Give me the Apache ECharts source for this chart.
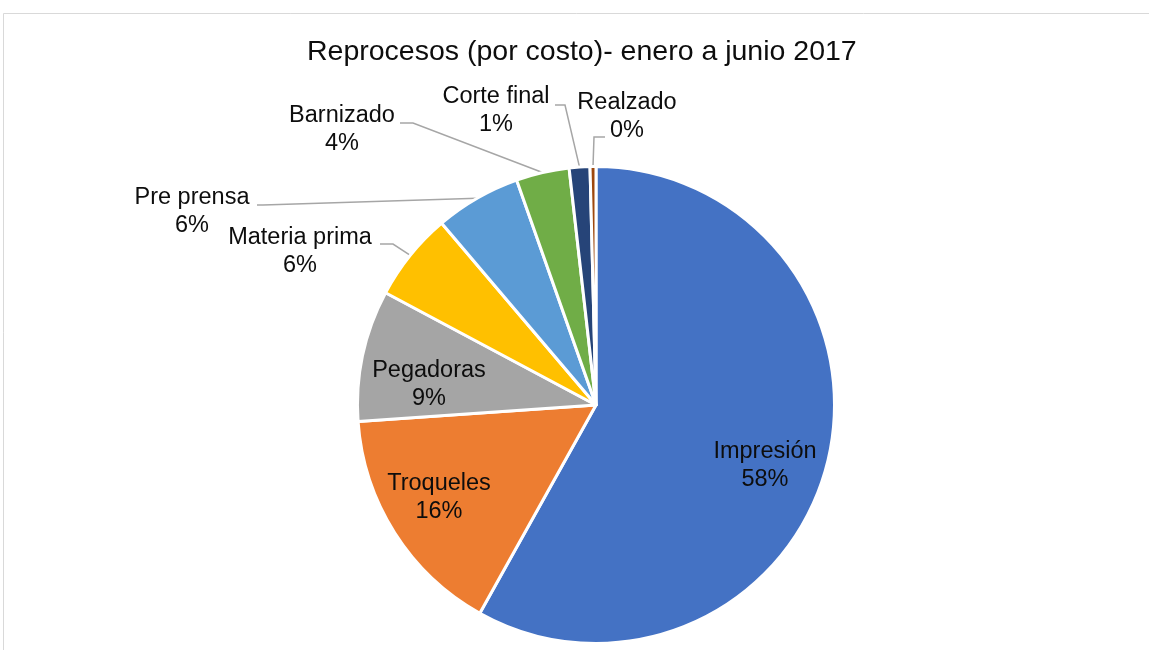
<!DOCTYPE html>
<html>
<head>
<meta charset="utf-8">
<title>Reprocesos (por costo)</title>
<script src="https://cdn.jsdelivr.net/npm/echarts@6/dist/echarts.min.js"></script>
<style>
  html, body { margin: 0; padding: 0; background: #ffffff; }
  #chart { width: 1149px; height: 650px; }
</style>
</head>
<body>
<div id="chart"></div>
<script>
// Rework cost share per process, January to June 2017 (percent of total cost)
const categories = ['Impresión', 'Troqueles', 'Pegadoras', 'Materia prima', 'Pre prensa', 'Barnizado', 'Corte final', 'Realzado'];
const shares = [58.1, 15.8, 8.9, 6.0, 5.8, 3.6, 1.4, 0.4];
const colors = ['#4472C4', '#ED7D31', '#A5A5A5', '#FFC000', '#5B9BD5', '#70AD47', '#264478', '#9E480E'];
const insideLabels = ['Impresión', 'Troqueles', 'Pegadoras'];
const chartTitle = 'Reprocesos (por costo)- enero a junio 2017';

// Pie geometry (pixels)
const PIE_CX = 596, PIE_CY = 405, PIE_R = 238.5;

// Label block centres and leader-line bends (bend point, then end next to the text)
const labelSpots = {
  'Impresión':     { pos: [765, 466] },
  'Troqueles':     { pos: [439, 498] },
  'Pegadoras':     { pos: [429, 385] },
  'Materia prima': { pos: [300, 252], line: [[393, 244], [380, 244]] },
  'Pre prensa':    { pos: [192, 212], line: [[263, 205], [257, 205]] },
  'Barnizado':     { pos: [342, 130], line: [[413, 123], [400, 123]] },
  'Corte final':   { pos: [496, 111], line: [[565, 105], [555, 105]] },
  'Realzado':      { pos: [627, 117], line: [[594, 137], [605, 137]] }
};

// Point on the outer rim at the middle of each slice (clockwise from 12 o'clock)
const total = shares.reduce((a, b) => a + b, 0);
function rimPoint(index) {
  let before = 0;
  for (let i = 0; i < index; i++) before += shares[i];
  const mid = (before + shares[index] / 2) / total * 2 * Math.PI;
  return [PIE_CX + PIE_R * Math.sin(mid), PIE_CY - PIE_R * Math.cos(mid)];
}

const pieData = categories.map((name, i) => {
  const inside = insideLabels.indexOf(name) >= 0;
  return {
    name: name,
    value: shares[i],
    itemStyle: { color: colors[i] },
    label: { position: inside ? 'inside' : 'outside' },
    labelLine: { show: !inside }
  };
});

const chart = echarts.init(document.getElementById('chart'), null, { renderer: 'canvas' });

chart.setOption({
  animation: false,
  backgroundColor: '#ffffff',
  textStyle: { fontFamily: '"Liberation Sans", Arial, sans-serif' },
  title: {
    text: chartTitle,
    left: 307,
    top: 35,
    padding: 0,
    textStyle: {
      fontFamily: '"Liberation Sans", Arial, sans-serif',
      fontSize: 28.5,
      lineHeight: 34,
      fontWeight: 'normal',
      color: '#0d0d0d'
    }
  },
  graphic: [{
    type: 'rect',
    silent: true,
    z: -10,
    shape: { x: 3.5, y: 13.5, width: 1200, height: 700 },
    style: { fill: 'none', stroke: '#d9d9d9', lineWidth: 1 }
  }],
  series: [{
    type: 'pie',
    center: [PIE_CX, PIE_CY],
    radius: PIE_R,
    startAngle: 90,
    clockwise: true,
    avoidLabelOverlap: false,
    percentPrecision: 0,
    itemStyle: { borderColor: '#ffffff', borderWidth: 3 },
    emphasis: { disabled: true },
    label: {
      formatter: '{b}\n{d}%',
      fontFamily: '"Liberation Sans", Arial, sans-serif',
      fontSize: 23.5,
      lineHeight: 28,
      color: '#0d0d0d'
    },
    labelLine: {
      lineStyle: { color: '#A6A6A6', width: 1.5 }
    },
    labelLayout: function (params) {
      const name = categories[params.dataIndex];
      const spot = labelSpots[name];
      if (!spot) return {};
      const out = {
        x: spot.pos[0],
        y: spot.pos[1],
        align: 'center',
        verticalAlign: 'middle'
      };
      if (spot.line) {
        out.labelLinePoints = [rimPoint(params.dataIndex), spot.line[0], spot.line[1]];
      }
      return out;
    },
    data: pieData
  }]
});
</script>
</body>
</html>
